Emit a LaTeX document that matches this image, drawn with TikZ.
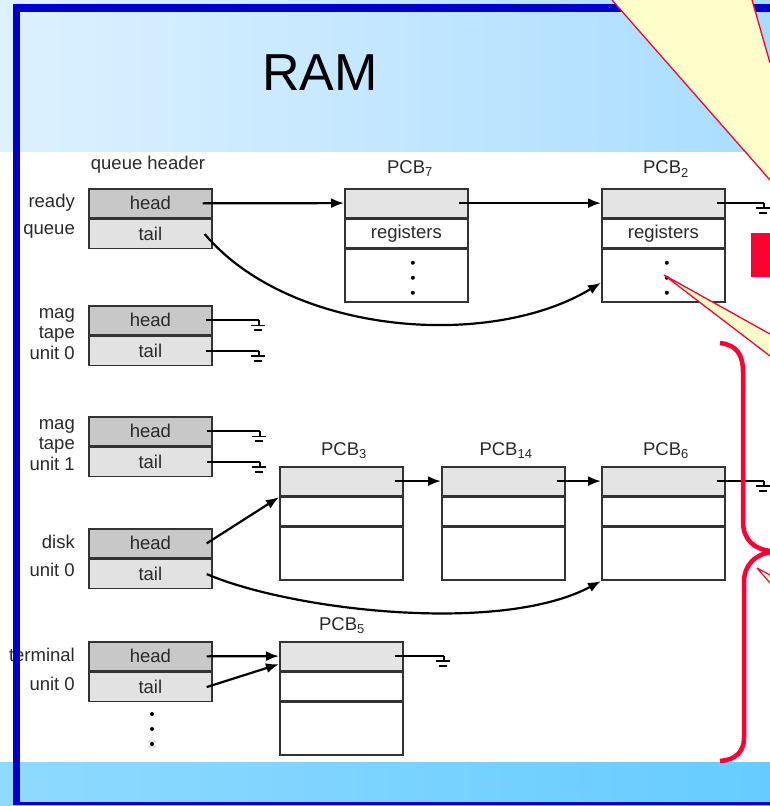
\documentclass[tikz,border=0pt]{standalone}
\usepackage{fontspec}
\setmainfont{Liberation Sans}
\usetikzlibrary{arrows.meta}
\definecolor{headgray}{HTML}{C8C8C8}
\definecolor{tailgray}{HTML}{E2E2E2}
\definecolor{pcbgray}{HTML}{E4E4E4}
\definecolor{boxline}{HTML}{333333}
\definecolor{txt}{HTML}{2A2A2A}
\definecolor{frameblue}{HTML}{0000CC}
\definecolor{calloutred}{HTML}{FF0033}
\definecolor{calloutyellow}{HTML}{FFFFCC}
\definecolor{titleL}{HTML}{DDF1FF}
\definecolor{titleR}{HTML}{A9DDFF}
\definecolor{botL}{HTML}{8FDAFF}
\definecolor{botR}{HTML}{66CCFF}
\newcommand{\lblfont}{\fontsize{18.5}{20.5}\selectfont}
\begin{document}
\begin{tikzpicture}[x=1pt,y=-1pt,
  cellbase/.style={draw=boxline, line width=1.7pt, minimum width=123pt, inner sep=0pt, text=txt, font=\lblfont, anchor=north west},
  hd/.style={cellbase, fill=headgray, minimum height=29pt},
  tl/.style={cellbase, fill=tailgray, minimum height=29pt},
  pcbtop/.style={cellbase, fill=pcbgray, minimum height=28.5pt},
  pcbmid/.style={cellbase, fill=white, minimum height=28.5pt},
  pcbbot/.style={cellbase, fill=white, minimum height=53pt},
  lbl/.style={text=txt, font=\lblfont, align=right, anchor=east, inner sep=0pt},
  ttl/.style={text=txt, font=\lblfont, inner sep=0pt},
  arr/.style={line width=2.2pt, draw=black, -{Latex[length=13pt,width=10pt]}},
  lnk/.style={line width=2.2pt, draw=black},
  gnd/.pic={\draw[line width=1.6pt] (0,0) -- (0,5) (-8,5) -- (6,5); \draw[line width=2.2pt] (-5,10) -- (3,10);},
  dot/.style={fill=black}
]
\useasboundingbox (0,0) rectangle (770,806);
% backgrounds
\shade[left color=titleL, right color=titleR] (0,0) rectangle (770,152);
\fill[white] (0,152) rectangle (770,762);
\shade[left color=botL, right color=botR] (0,762) rectangle (770,806);
\node[font=\fontsize{52}{60}\selectfont, text=black, inner sep=0pt] (ram) at (320,73) {RAM};

% queue headers
\node[ttl] (qh) at (148,165) {queue header};
\node[hd] (rqh) at (88,188) {head};
\node[tl] (rqt) at (rqh.south west) {tail};
\node[hd] (t0h) at (88,305) {head};
\node[tl] (t0t) at (t0h.south west) {tail};
\node[hd] (t1h) at (88,416) {head};
\node[tl] (t1t) at (t1h.south west) {tail};
\node[hd] (dkh) at (88,528) {head};
\node[tl] (dkt) at (dkh.south west) {tail};
\node[hd] (tmh) at (88,641) {head};
\node[tl] (tmt) at (tmh.south west) {tail};

% left labels
\node[lbl] (lready) at (75,203) {ready};
\node[lbl] (lqueue) at (75,231) {queue};
\node[lbl] (lt0) at (75,334) {mag\\tape\\unit 0};
\node[lbl] (lt1) at (75,445) {mag\\tape\\unit 1};
\node[lbl] (ldisk) at (75,542) {disk};
\node[lbl] (ldisk2) at (75,570) {unit 0};
\node[lbl] (lterm) at (75,655) {terminal};
\node[lbl] (lterm2) at (75,684) {unit 0};

% PCBs
\node[pcbtop] (p7h) at (344,188) {};
\node[pcbmid] (p7m) at (p7h.south west) {registers};
\node[pcbbot] (p7b) at (p7m.south west) {};
\node[ttl] (p7l) at (410,169) {PCB\textsubscript{7}};

\node[pcbtop] (p2h) at (601,188) {};
\node[pcbmid] (p2m) at (p2h.south west) {registers};
\node[pcbbot] (p2b) at (p2m.south west) {};
\node[ttl] (p2l) at (666,169) {PCB\textsubscript{2}};

\node[pcbtop] (p3h) at (279,466) {};
\node[pcbmid] (p3m) at (p3h.south west) {};
\node[pcbbot] (p3b) at (p3m.south west) {};
\node[ttl] (p3l) at (344,451) {PCB\textsubscript{3}};

\node[pcbtop] (p14h) at (441,466) {};
\node[pcbmid] (p14m) at (p14h.south west) {};
\node[pcbbot] (p14b) at (p14m.south west) {};
\node[ttl] (p14l) at (506,451) {PCB\textsubscript{14}};

\node[pcbtop] (p6h) at (601,466) {};
\node[pcbmid] (p6m) at (p6h.south west) {};
\node[pcbbot] (p6b) at (p6m.south west) {};
\node[ttl] (p6l) at (666,451) {PCB\textsubscript{6}};

\node[pcbtop] (p5h) at (279,641) {};
\node[pcbmid] (p5m) at (p5h.south west) {};
\node[pcbbot] (p5b) at (p5m.south west) {};
\node[ttl] (p5l) at (342,626) {PCB\textsubscript{5}};

% dots
\foreach \yy in {-13,2,17} {
  \fill[dot] ([xshift=6.5pt,yshift=-\yy pt]p7b.center) circle (2);
  \fill[dot] ([xshift=3.5pt,yshift=-\yy pt]p2b.center) circle (2);
}
\foreach \yy in {714,729,744} \fill[dot] (152,\yy) circle (2);

% arrows: ready queue
\draw[arr] ([xshift=-10pt]rqh.east) -- (p7h.west);
\draw[arr] ([xshift=-10pt]p7h.east) -- (p2h.west);
\draw[arr] ([xshift=-8pt]rqt.east) .. controls (290,335) and (490,350) .. ([yshift=-7pt]p2b.west);
\draw[lnk] ([xshift=-9pt]p2h.east) -- ++(47,0) coordinate (g2) pic {gnd};

% mag tape unit 0
\draw[lnk] ([xshift=-7pt]t0h.east) -- ++(53,0) coordinate (g3) pic {gnd};
\draw[lnk, line width=2.8pt] ([xshift=-7pt]t0t.east) -- ++(53,0) coordinate (g4) pic {gnd};
% mag tape unit 1
\draw[lnk] ([xshift=-6pt]t1h.east) -- ++(53,0) coordinate (g5) pic {gnd};
\draw[lnk] ([xshift=-6pt]t1t.east) -- ++(53,0) coordinate (g6) pic {gnd};

% disk
\draw[arr] ([xshift=-6pt]dkh.east) -- ([yshift=-1pt]p3h.south west);
\draw[arr] ([xshift=-9pt]p3h.east) -- (p14h.west);
\draw[arr] ([xshift=-9pt]p14h.east) -- (p6h.west);
\draw[lnk] ([xshift=-9pt]p6h.east) -- ++(47,0) coordinate (g7) pic {gnd};
\draw[arr] ([xshift=-6pt]dkt.east) .. controls (290,610) and (500,635) .. (p6b.south west);

% terminal
\draw[arr] ([xshift=-6pt]tmh.east) -- (p5h.west);
\draw[arr] ([xshift=-6pt]tmt.east) -- ([yshift=-8pt]p5h.west);
\draw[lnk] ([xshift=-9pt]p5h.east) -- ++(49,0) coordinate (g8) pic {gnd};

% frame
\fill[frameblue] (13,4) rectangle (20,805);
\fill[frameblue] (13,4) rectangle (770,12);
\fill[frameblue] (13,802) rectangle (770,805);

% callouts
\fill[calloutyellow] (612,0) -- (752,0) -- (770,63) -- (770,180) -- cycle;
\draw[calloutred, line width=1.3pt] (612,0) -- (770,180) (752,0) -- (770,63);
\fill[calloutred] (751,233) rectangle (770,277);
\fill[calloutyellow] (664,275) -- (770,334) -- (770,356) -- cycle;
\draw[calloutred, line width=1.3pt] (664,275) -- (770,334) (664,275) -- (770,356);
\fill[calloutyellow] (757,568) -- (770,575) -- (770,583) -- cycle;
\draw[calloutred, line width=1.2pt] (757,568) -- (770,575) (757,568) -- (770,583);

% brace
\draw[calloutred, line width=4.5pt] (720,343) .. controls (737,345) and (743,355) .. (743,372) -- (743,522) .. controls (743,540) and (755,550) .. (772,551);
\draw[calloutred, line width=4.5pt] (772,552) .. controls (755,554) and (744,565) .. (744,582) -- (744,738) .. controls (744,752) and (735,760) .. (720,761);
\end{tikzpicture}
\end{document}
